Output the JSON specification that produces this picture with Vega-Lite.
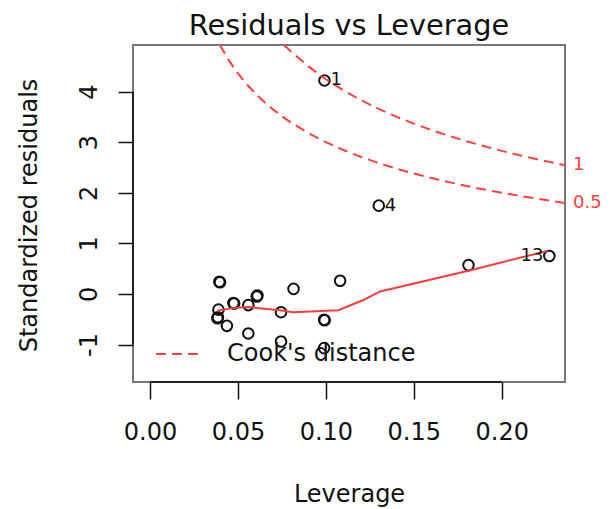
{
  "$schema": "https://vega.github.io/schema/vega-lite/v6.json",
  "width": 432,
  "height": 337,
  "autosize": {"type": "none"},
  "padding": {"left": 133, "top": 45, "right": 48, "bottom": 127},
  "background": "white",
  "config": {
    "view": {"stroke": "#777", "strokeWidth": 2},
    "font": "DejaVu Sans",
    "axis": {"grid": false, "domain": false, "tickColor": "#111", "tickWidth": 1.5, "labelColor": "#111", "titleColor": "#111", "labelFont": "DejaVu Sans", "titleFont": "DejaVu Sans", "labelFontSize": 24, "titleFontSize": 24, "titleFontWeight": "normal"}
  },
  "title": {"text": "Residuals vs Leverage", "fontSize": 28.8, "font": "DejaVu Sans", "fontWeight": "normal", "color": "#111", "anchor": "middle", "frame": "group", "baseline": "alphabetic", "offset": 12, "dy": 31},
  "datasets": {
    "points": [
      {"h": 0.0992, "r": 4.22, "id": "1"},
      {"h": 0.1301, "r": 1.745, "id": "4"},
      {"h": 0.2271, "r": 0.75, "id": "13"},
      {"h": 0.1811, "r": 0.57, "id": ""},
      {"h": 0.1081, "r": 0.26, "id": ""},
      {"h": 0.0816, "r": 0.10, "id": ""},
      {"h": 0.0394, "r": 0.24, "id": ""},
      {"h": 0.0398, "r": 0.23, "id": ""},
      {"h": 0.0607, "r": -0.05, "id": ""},
      {"h": 0.0611, "r": -0.03, "id": ""},
      {"h": 0.0474, "r": -0.18, "id": ""},
      {"h": 0.0478, "r": -0.19, "id": ""},
      {"h": 0.0559, "r": -0.22, "id": ""},
      {"h": 0.0389, "r": -0.31, "id": ""},
      {"h": 0.0383, "r": -0.48, "id": ""},
      {"h": 0.0386, "r": -0.46, "id": ""},
      {"h": 0.0437, "r": -0.63, "id": ""},
      {"h": 0.0745, "r": -0.36, "id": ""},
      {"h": 0.0990, "r": -0.51, "id": ""},
      {"h": 0.0993, "r": -0.52, "id": ""},
      {"h": 0.0559, "r": -0.78, "id": ""},
      {"h": 0.0745, "r": -0.94, "id": ""},
      {"h": 0.0990, "r": -1.07, "id": ""}
    ],
    "lowess": [
      {"h": 0.0383, "r": -0.33},
      {"h": 0.0465, "r": -0.28},
      {"h": 0.0559, "r": -0.26},
      {"h": 0.0739, "r": -0.32},
      {"h": 0.0815, "r": -0.36},
      {"h": 0.1071, "r": -0.32},
      {"h": 0.1213, "r": -0.12},
      {"h": 0.1308, "r": 0.05},
      {"h": 0.1811, "r": 0.46},
      {"h": 0.2260, "r": 0.85}
    ],
    "cook": [
      {"h": 0.0397, "r": 4.920, "level": "0.5", "legend": "Cook's distance"},
      {"h": 0.045, "r": 4.607, "level": "0.5", "legend": "Cook's distance"},
      {"h": 0.050, "r": 4.359, "level": "0.5", "legend": "Cook's distance"},
      {"h": 0.055, "r": 4.145, "level": "0.5", "legend": "Cook's distance"},
      {"h": 0.060, "r": 3.958, "level": "0.5", "legend": "Cook's distance"},
      {"h": 0.065, "r": 3.793, "level": "0.5", "legend": "Cook's distance"},
      {"h": 0.070, "r": 3.645, "level": "0.5", "legend": "Cook's distance"},
      {"h": 0.075, "r": 3.512, "level": "0.5", "legend": "Cook's distance"},
      {"h": 0.080, "r": 3.391, "level": "0.5", "legend": "Cook's distance"},
      {"h": 0.090, "r": 3.180, "level": "0.5", "legend": "Cook's distance"},
      {"h": 0.100, "r": 3.000, "level": "0.5", "legend": "Cook's distance"},
      {"h": 0.110, "r": 2.844, "level": "0.5", "legend": "Cook's distance"},
      {"h": 0.120, "r": 2.708, "level": "0.5", "legend": "Cook's distance"},
      {"h": 0.130, "r": 2.587, "level": "0.5", "legend": "Cook's distance"},
      {"h": 0.140, "r": 2.478, "level": "0.5", "legend": "Cook's distance"},
      {"h": 0.150, "r": 2.380, "level": "0.5", "legend": "Cook's distance"},
      {"h": 0.160, "r": 2.291, "level": "0.5", "legend": "Cook's distance"},
      {"h": 0.170, "r": 2.210, "level": "0.5", "legend": "Cook's distance"},
      {"h": 0.180, "r": 2.134, "level": "0.5", "legend": "Cook's distance"},
      {"h": 0.190, "r": 2.065, "level": "0.5", "legend": "Cook's distance"},
      {"h": 0.200, "r": 2.000, "level": "0.5", "legend": "Cook's distance"},
      {"h": 0.210, "r": 1.940, "level": "0.5", "legend": "Cook's distance"},
      {"h": 0.220, "r": 1.883, "level": "0.5", "legend": "Cook's distance"},
      {"h": 0.230, "r": 1.830, "level": "0.5", "legend": "Cook's distance"},
      {"h": 0.236, "r": 1.799, "level": "0.5", "legend": "Cook's distance"},
      {"h": 0.0763, "r": 4.920, "level": "1", "legend": "Cook's distance"},
      {"h": 0.080, "r": 4.796, "level": "1", "legend": "Cook's distance"},
      {"h": 0.090, "r": 4.497, "level": "1", "legend": "Cook's distance"},
      {"h": 0.100, "r": 4.243, "level": "1", "legend": "Cook's distance"},
      {"h": 0.110, "r": 4.023, "level": "1", "legend": "Cook's distance"},
      {"h": 0.120, "r": 3.830, "level": "1", "legend": "Cook's distance"},
      {"h": 0.130, "r": 3.659, "level": "1", "legend": "Cook's distance"},
      {"h": 0.140, "r": 3.505, "level": "1", "legend": "Cook's distance"},
      {"h": 0.150, "r": 3.367, "level": "1", "legend": "Cook's distance"},
      {"h": 0.160, "r": 3.240, "level": "1", "legend": "Cook's distance"},
      {"h": 0.170, "r": 3.125, "level": "1", "legend": "Cook's distance"},
      {"h": 0.180, "r": 3.018, "level": "1", "legend": "Cook's distance"},
      {"h": 0.190, "r": 2.920, "level": "1", "legend": "Cook's distance"},
      {"h": 0.200, "r": 2.828, "level": "1", "legend": "Cook's distance"},
      {"h": 0.210, "r": 2.743, "level": "1", "legend": "Cook's distance"},
      {"h": 0.220, "r": 2.663, "level": "1", "legend": "Cook's distance"},
      {"h": 0.230, "r": 2.588, "level": "1", "legend": "Cook's distance"},
      {"h": 0.236, "r": 2.545, "level": "1", "legend": "Cook's distance"}
    ],
    "cooklab": [
      {"h": 0.236, "r": 2.545, "lab": "1"},
      {"h": 0.236, "r": 1.799, "lab": "0.5"}
    ],
    "axisx": [{"h0": 0, "h1": 0.2, "r": -1.74}],
    "axisy": [{"h": -0.0097, "r0": -1, "r1": 4}]
  },
  "layer": [
    {
      "data": {"name": "points"},
      "mark": {"type": "point", "shape": "circle", "filled": false, "color": "#111", "size": 112, "strokeWidth": 2, "opacity": 1},
      "encoding": {
        "x": {"field": "h", "type": "quantitative", "title": "Leverage",
          "scale": {"domain": [-0.0097, 0.236], "nice": false, "zero": false},
          "axis": {"values": [0, 0.05, 0.1, 0.15, 0.2], "format": ".2f", "tickSize": 17, "labelPadding": 40, "labelBaseline": "alphabetic", "titleY": 119.6, "titleBaseline": "alphabetic", "titleX": 216, "titleAlign": "center"}},
        "y": {"field": "r", "type": "quantitative", "title": "Standardized residuals",
          "scale": {"domain": [-1.74, 4.92], "nice": false, "zero": false},
          "axis": {"values": [-1, 0, 1, 2, 3, 4], "labelExpr": "datum.value < 0 ? '-' + abs(datum.value) : '' + datum.value", "tickSize": 15, "labelPadding": 22, "labelAngle": -90, "labelAlign": "center", "labelBaseline": "alphabetic", "titleX": -97, "titleY": 170, "titleAngle": -90, "titleAlign": "center", "titleBaseline": "alphabetic"}}
      }
    },
    {
      "mark": {"type": "rule", "color": "#aaa", "strokeDash": [2, 6], "strokeWidth": 1.5},
      "encoding": {"y": {"datum": 0, "type": "quantitative", "title": "Standardized residuals"}}
    },
    {
      "mark": {"type": "rule", "color": "#aaa", "strokeDash": [2, 6], "strokeWidth": 1.5},
      "encoding": {"x": {"datum": 0, "type": "quantitative", "title": "Leverage"}}
    },
    {
      "data": {"name": "axisx"},
      "mark": {"type": "rule", "color": "#222", "strokeWidth": 2},
      "encoding": {
        "x": {"field": "h0", "type": "quantitative", "title": "Leverage"},
        "x2": {"field": "h1"},
        "y": {"field": "r", "type": "quantitative", "title": "Standardized residuals"}
      }
    },
    {
      "data": {"name": "axisy"},
      "mark": {"type": "rule", "color": "#222", "strokeWidth": 2},
      "encoding": {
        "y": {"field": "r0", "type": "quantitative", "title": "Standardized residuals"},
        "y2": {"field": "r1"},
        "x": {"field": "h", "type": "quantitative", "title": "Leverage"}
      }
    },
    {
      "data": {"name": "cook"},
      "mark": {"type": "line", "strokeDash": [10, 6], "strokeWidth": 2, "clip": true},
      "encoding": {
        "x": {"field": "h", "type": "quantitative", "title": "Leverage"},
        "y": {"field": "r", "type": "quantitative", "title": "Standardized residuals"},
        "detail": {"field": "level"},
        "order": {"field": "h"},
        "color": {"field": "legend", "type": "nominal", "scale": {"domain": ["Cook's distance"], "range": ["#ff4040"]},
          "legend": {"orient": "none", "legendX": 22, "legendY": 287, "title": null, "padding": 0, "symbolType": "stroke", "symbolSize": 1764, "symbolDash": [10, 6], "symbolStrokeWidth": 2, "labelFontSize": 24, "labelFont": "DejaVu Sans", "labelColor": "#111", "labelOffset": 28, "labelLimit": 0}}
      }
    },
    {
      "data": {"name": "lowess"},
      "mark": {"type": "line", "color": "#ff3b3b", "strokeWidth": 2, "clip": true},
      "encoding": {
        "x": {"field": "h", "type": "quantitative", "title": "Leverage"},
        "y": {"field": "r", "type": "quantitative", "title": "Standardized residuals"},
        "order": {"field": "h"}
      }
    },
    {
      "data": {"name": "points"},
      "transform": [{"filter": "datum.id == '1' || datum.id == '4'"}],
      "mark": {"type": "text", "align": "left", "baseline": "middle", "dx": 6, "fontSize": 18, "font": "DejaVu Sans", "color": "#111"},
      "encoding": {
        "x": {"field": "h", "type": "quantitative", "title": "Leverage"},
        "y": {"field": "r", "type": "quantitative", "title": "Standardized residuals"},
        "text": {"field": "id"}
      }
    },
    {
      "data": {"name": "points"},
      "transform": [{"filter": "datum.id == '13'"}],
      "mark": {"type": "text", "align": "right", "baseline": "middle", "dx": -6, "fontSize": 18, "font": "DejaVu Sans", "color": "#111"},
      "encoding": {
        "x": {"field": "h", "type": "quantitative", "title": "Leverage"},
        "y": {"field": "r", "type": "quantitative", "title": "Standardized residuals"},
        "text": {"field": "id"}
      }
    },
    {
      "data": {"name": "cooklab"},
      "mark": {"type": "text", "align": "left", "baseline": "middle", "dx": 8, "fontSize": 18, "font": "DejaVu Sans", "color": "#ff4040", "clip": false},
      "encoding": {
        "x": {"field": "h", "type": "quantitative", "title": "Leverage"},
        "y": {"field": "r", "type": "quantitative", "title": "Standardized residuals"},
        "text": {"field": "lab"}
      }
    }
  ]
}
